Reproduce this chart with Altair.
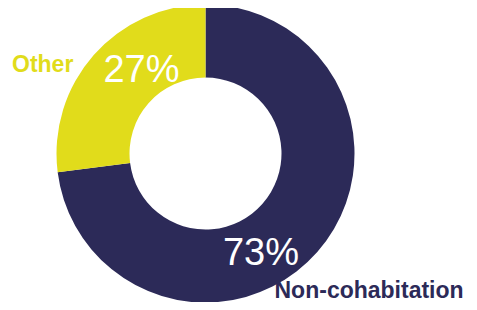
import altair as alt
import pandas as pd
import math

categories = ["Non-cohabitation", "Other"]
values = [73, 27]
pct_labels = ["73%", "27%"]
colors = ["#2c2a58", "#e1dc1b"]

df = pd.DataFrame({"cat": categories, "value": values, "pct": pct_labels, "ord": [0, 1]})

CX, CY = 197.5, 145.5
R_OUT, R_IN = 149, 76
R_LBL = 112

theta_scale = alt.Scale(domain=[0, 100], range=[0, 2 * math.pi])
color_scale = alt.Scale(domain=categories, range=colors)

base = alt.Chart(df).transform_window(
    cum="sum(value)", sort=[alt.SortField("ord")]
).transform_calculate(
    start="datum.cum - datum.value", mid="datum.cum - datum.value/2"
)

arc = base.mark_arc(radius=R_OUT, radius2=R_IN, stroke=None).encode(
    theta=alt.Theta("start:Q", scale=theta_scale),
    theta2=alt.Theta2("cum:Q"),
    color=alt.Color("cat:N", scale=color_scale, legend=None),
    x=alt.value(CX), y=alt.value(CY),
)

def label(cat, field, dx, dy, size, weight, color, align):
    return base.transform_filter(alt.datum.cat == cat).mark_text(
        radius=R_LBL, dx=dx, dy=dy, fontSize=size, fontWeight=weight,
        font="Liberation Sans", align=align, baseline="alphabetic", color=color,
    ).encode(
        theta=alt.Theta("mid:Q", scale=theta_scale),
        text=alt.Text(f"{field}:N"),
        x=alt.value(CX), y=alt.value(CY),
    )

t27 = label("Other", "pct", 20, 2.6, 38, "normal", "white", "center")
t73 = label("Non-cohabitation", "pct", -28.5, 37.4, 38, "normal", "white", "center")
tOther = label("Other", "cat", -109.5, -7.4, 23, "bold", colors[1], "left")
tNon = label("Non-cohabitation", "cat", -15, 70, 23, "bold", colors[0], "left")

chart = alt.layer(arc, t27, t73, tOther, tNon).properties(
    width=461, height=294, autosize=alt.AutoSizeParams(type="none"), padding=0
).configure_view(stroke=None)

chart.save("out.html", embed_options={"renderer": "svg", "actions": False})
